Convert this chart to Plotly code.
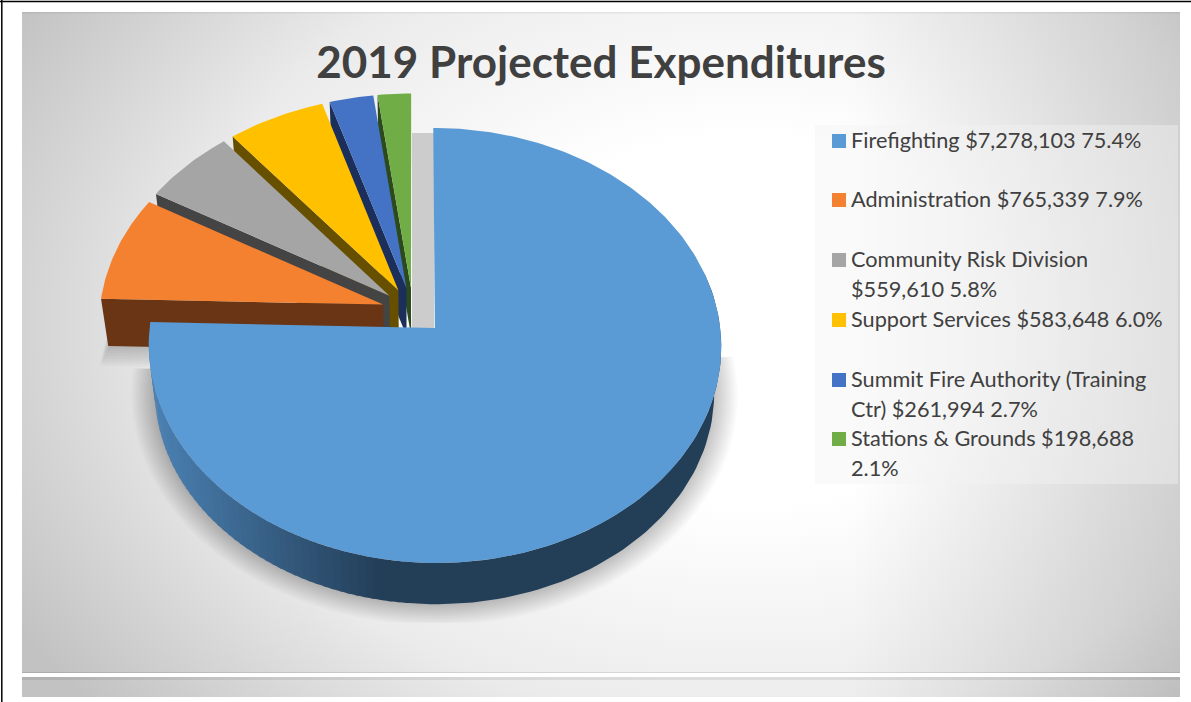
import base64
import numpy as np
import plotly.graph_objects as go

# ---------- data ----------
categories = ["Firefighting", "Administration", "Community Risk Division",
              "Support Services", "Summit Fire Authority (Training Ctr)", "Stations & Grounds"]
dollars = [7278103, 765339, 559610, 583648, 261994, 198688]
percent_labels = ["75.4%", "7.9%", "5.8%", "6.0%", "2.7%", "2.1%"]
top_colors = ["#5B9BD5", "#F4812F", "#A5A5A5", "#FFC000", "#4472C4", "#70AD47"]
side_colors = ["#233E57", "#693514", "#444444", "#665000", "#1B2F5A", "#2D4A1C"]
legend_wrap_after = ["", "", "Community Risk Division", "", "Summit Fire Authority (Training", "Stations & Grounds $198,688"]
legend_rows = [141, 200, 260, 320, 380, 439]
title_text = "2019 Projected Expenditures"

# ---------- style / projection ----------
W, H = 1191, 702
X0, Y0, A, B, K = 413.0, 311.0, 283.5, 213.4, 0.08
PULL = 0.11
Z_F, Z_D = 0.977, 47.0
TXT = "#404040"
FONT = "Lato"


def project(u, v, low=False):
    u, v = np.asarray(u, float), np.asarray(v, float)
    s = 1.0 / (1.0 - K * v)
    x = X0 + A * u * s
    y = Y0 + B * v * s
    if low:
        x = X0 + (x - X0) * Z_F
        y = Y0 + (y - Y0) * Z_F + Z_D
    return x, y


vals = np.array(dollars, float)
edges = np.concatenate([[0], np.cumsum(vals) / vals.sum() * 2 * np.pi])


def ring(i, t, low=False, r=1.0):
    mid = (edges[i] + edges[i + 1]) / 2
    ou, ov = PULL * np.sin(mid), -PULL * np.cos(mid)
    return project(ou + r * np.sin(t), ov - r * np.cos(t), low)


def wedge(i, low=False, r=1.0):
    t = np.linspace(edges[i], edges[i + 1], max(8, int((edges[i + 1] - edges[i]) * 60)))
    ax, ay = ring(i, np.array([0.0]), low, 0.0)
    x, y = ring(i, t, low, r)
    return np.r_[ax, x, ax], np.r_[ay, y, ay]


def poly(x, y, color, opacity=1.0, name="", lw=0.0):
    return go.Scatter(x=x, y=y, mode="lines", fill="toself", fillcolor=color, opacity=opacity,
                      line=dict(color=color, width=lw), hoverinfo="skip", name=name, showlegend=False)


fig = go.Figure()

# soft shadows: the rim of the main slice and the foot of the orange one
for r in np.linspace(1.085, 1.0, 20):
    x, y = wedge(0, True, r)
    keep = y > 356
    fig.add_trace(poly(np.clip(x[keep], 94, 745), np.minimum(y[keep], 623), "#000000", 0.012))
for k, r in enumerate(np.linspace(1.03, 1.0, 8)):
    x, y = wedge(1, True, r)
    fig.add_trace(poly(np.clip(x, 94, 745), y + 20 - 2.5 * k, "#000000", 0.022))

# exploded slices, back to front
for i in range(5, 0, -1):
    t0 = edges[i]
    ax, ay = ring(i, np.array([t0]), False, 0.0)
    ex, ey = ring(i, np.array([t0]), False, 1.0)
    lax, lay = ring(i, np.array([t0]), True, 0.0)
    lex, ley = ring(i, np.array([t0]), True, 1.0)
    fig.add_trace(poly(np.r_[ax, ex, lex, lax, ax], np.r_[ay, ey, ley, lay, ay], side_colors[i], name=categories[i] + " side"))
    x, y = wedge(i)
    fig.add_trace(poly(x, y, top_colors[i], name=categories[i]))

# main slice: rim with a light falling on the left side
seg = np.linspace(np.radians(75), np.radians(268), 121)
dark = np.array([0x23, 0x3E, 0x57])
light = np.array([0x4C, 0x82, 0xB4])
tx, _ = ring(0, seg, True)
solid = seg[tx >= 400]
x1, y1 = ring(0, solid)
x2, y2 = ring(0, solid, True)
fig.add_trace(poly(np.r_[x1, x2[::-1]], np.r_[y1, y2[::-1]], "rgb(35,62,87)", name="rim"))
for a, b in zip(seg[:-1], seg[1:]):
    if b <= solid[-1]:
        continue
    t = np.linspace(a - 0.012, b, 4)
    x1, y1 = ring(0, t)
    x2, y2 = ring(0, t, True)
    f = np.clip((x2.mean() - 155) / (380 - 155), 0, 1)
    c = light + (dark - light) * f
    fig.add_trace(poly(np.r_[x1, x2[::-1]], np.r_[y1, y2[::-1]], "rgb(%d,%d,%d)" % tuple(c), name="rim"))
x, y = wedge(0)
fig.add_trace(poly(x, y, top_colors[0], name=categories[0]))

# legend
fig.add_trace(go.Scatter(x=[839] * 6, y=legend_rows, mode="markers", hoverinfo="skip", showlegend=False,
                         marker=dict(symbol="square", size=14, color=top_colors, line=dict(width=0))))
annotations = []
for cat, d, p, row, wrap in zip(categories, dollars, percent_labels, legend_rows, legend_wrap_after):
    full = f"{cat} ${d:,} {p}"
    lines = [wrap, full[len(wrap):].strip()] if wrap else [full]
    for k, line in enumerate(lines):
        annotations.append(dict(text=line, x=850.5, y=row - 1 + 29.5 * k, xref="x", yref="y", xanchor="left",
                                yanchor="middle", showarrow=False, borderpad=0, borderwidth=0,
                                font=dict(family=FONT, size=21.7, color=TXT)))

# background gradient (page furniture)
svg = f'''<svg xmlns="http://www.w3.org/2000/svg" width="{W}" height="{H}" viewBox="0 0 {W} {H}">
<defs>
<radialGradient id="g" gradientUnits="userSpaceOnUse" cx="0" cy="0" r="1" gradientTransform="translate(750 320) scale(850 610)">
<stop offset="0" stop-color="#ffffff"/><stop offset="0.3" stop-color="#ffffff"/>
<stop offset="0.66" stop-color="#ebebeb"/><stop offset="1" stop-color="#c2c2c2"/></radialGradient>
<linearGradient id="r" x1="0" x2="1" y1="0" y2="0"><stop offset="0" stop-color="#000" stop-opacity="0"/><stop offset="1" stop-color="#000" stop-opacity="0.13"/></linearGradient>
<clipPath id="c"><rect x="22" y="12" width="1158" height="661"/><rect x="22" y="677" width="1158" height="20"/></clipPath>
</defs>
<g clip-path="url(#c)"><rect width="{W}" height="{H}" fill="url(#g)"/>
<rect x="850" y="0" width="330" height="{H}" fill="url(#r)"/>
<rect x="22" y="672" width="1158" height="1.5" fill="#000" opacity="0.1"/>
<rect x="22" y="12" width="1158" height="1.5" fill="#000" opacity="0.06"/>
<rect x="22" y="677" width="1158" height="3" fill="#000" opacity="0.08"/>
<rect x="815" y="125" width="363" height="359" fill="#f2f2f2" opacity="0.42"/>
<rect x="412" y="133" width="22" height="195" fill="#cccccc"/></g></svg>'''
src = "data:image/svg+xml;base64," + base64.b64encode(svg.encode()).decode()

fig.update_layout(
    width=W, height=H, margin=dict(l=0, r=0, t=0, b=0), paper_bgcolor="white", plot_bgcolor="rgba(0,0,0,0)",
    showlegend=False, hovermode=False,
    xaxis=dict(range=[0, W], visible=False, fixedrange=True),
    yaxis=dict(range=[H, 0], visible=False, fixedrange=True),
    title=dict(text=f"<b>{title_text}</b>", x=601 / W, y=1 - 63 / H, xref="paper", yref="paper",
               xanchor="center", yanchor="middle", font=dict(family=FONT, size=44, color=TXT)),
    annotations=annotations,
    images=[dict(source=src, xref="x", yref="y", x=0, y=0, sizex=W, sizey=H, sizing="stretch", layer="below")],
    shapes=[
        dict(type="line", x0=1.8, x1=1.8, y0=0, y1=H, line=dict(color="black", width=1.5), layer="above"),
        dict(type="line", x0=0, x1=W, y0=1.5, y1=1.5, line=dict(color="black", width=1.5), layer="above"),
    ],
)
fig.write_html("out.html", config={"displayModeBar": False},
               post_script="document.body.style.margin='0';document.body.style.overflow='hidden';")
